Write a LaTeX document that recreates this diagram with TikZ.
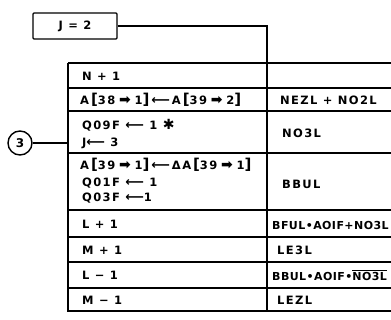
\documentclass[tikz,border=0pt]{standalone}
\usepackage{fontspec}
\newfontfamily\lett[LetterSpace=12]{DejaVu Sans}
\newfontfamily\lettn[LetterSpace=4]{DejaVu Sans}
\newfontfamily\symf{DejaVu Sans}
\newcommand{\fat}{\,\,{\symf\fontsize{14}{14}\selectfont ➡}\,\,}
\newcommand{\larr}{{\symf\fontsize{13}{13}\selectfont ⟵}}
\newcommand{\lb}{\,{\fontsize{15}{15}\selectfont[}}
\newcommand{\rb}{{\fontsize{15}{15}\selectfont]}}
\begin{document}
\begin{tikzpicture}[x=1pt,y=-1pt,
  thinline/.style={line width=1.2pt},
  thickline/.style={line width=2.8pt},
  txt/.style={font=\lett\bfseries\fontsize{11.5}{13}\selectfont, inner sep=0pt, anchor=west},
  txtn/.style={font=\lettn\bfseries\fontsize{11}{12}\selectfont, inner sep=0pt, anchor=west},
  boxnode/.style={draw, line width=1.2pt, rounded corners=1pt, minimum width=84pt, minimum height=26pt, inner sep=0pt, font=\lett\bfseries\fontsize{11.5}{13}\selectfont},
  circnode/.style={draw, circle, line width=1.4pt, minimum size=24pt, inner sep=0pt, font=\lett\bfseries\fontsize{12}{13}\selectfont}]
\useasboundingbox (0,0) rectangle (391,320);
% top box and circle
\node[boxnode] (j2) at (75,26) {J = 2};
\node[circnode] (c3) at (20,143) {3};
\coordinate (top) at (267,63);
\coordinate (lft) at (68,143);
% table frame
\draw[thinline] (68,63) -- (395,63);
\draw[thinline] (68,63) -- (68,311) -- (395,311);
\draw[thinline] (68,88) -- (395,88);
\draw[thickline] (68,111) -- (395,111);
\draw[thinline] (68,153) -- (395,153);
\draw[thickline] (68,210) -- (395,210);
\draw[thinline] (68,237) -- (395,237);
\draw[thickline] (68,262) -- (395,262);
\draw[thinline] (68,288) -- (395,288);
\draw[thinline] (267,63) -- (267,311);
% connectors
\draw[thinline] (j2.east) -| (top);
\draw[thinline] (c3.east) -- (lft);
% left column
\node[txt] (t1) at (82,76) {N + 1};
\node[txt] (t2) at (80,100) {A\lb 38\fat 1\rb\,\larr\,A\lb 39\fat 2\rb};
\node[txt] (t3) at (82,125) {Q09F \larr\ 1 {\symf\fontsize{14}{14}\selectfont ✱}};
\node[txt] (t4) at (82,143) {J\larr\ 3};
\node[txt] (t5) at (80,165) {A\lb 39\fat 1\rb\,\larr\,ΔA\lb 39\fat 1\rb};
\node[txt] (t6) at (82,183) {Q01F \larr\ 1};
\node[txt] (t7) at (82,198) {Q03F \larr 1};
\node[txt] (t8) at (82,224) {L + 1};
\node[txt] (t9) at (82,250) {M + 1};
\node[txt] (t10) at (82,275) {L − 1};
\node[txt] (t11) at (82,300) {M − 1};
% right column
\node[txt] (r1) at (280,100) {NEZL + NO2L};
\node[txt] (r2) at (282,133) {NO3L};
\node[txt] (r3) at (282,184) {BBUL};
\node[txtn] (r4) at (272,225) {BFUL•AOIF+NO3L};
\node[txt] (r5) at (277,250) {LE3L};
\node[txtn] (r6) at (272,275) {BBUL•AOIF•$\overline{\hbox{NO3L}}$};
\node[txt] (r7) at (277,300) {LEZL};
\end{tikzpicture}
\end{document}
